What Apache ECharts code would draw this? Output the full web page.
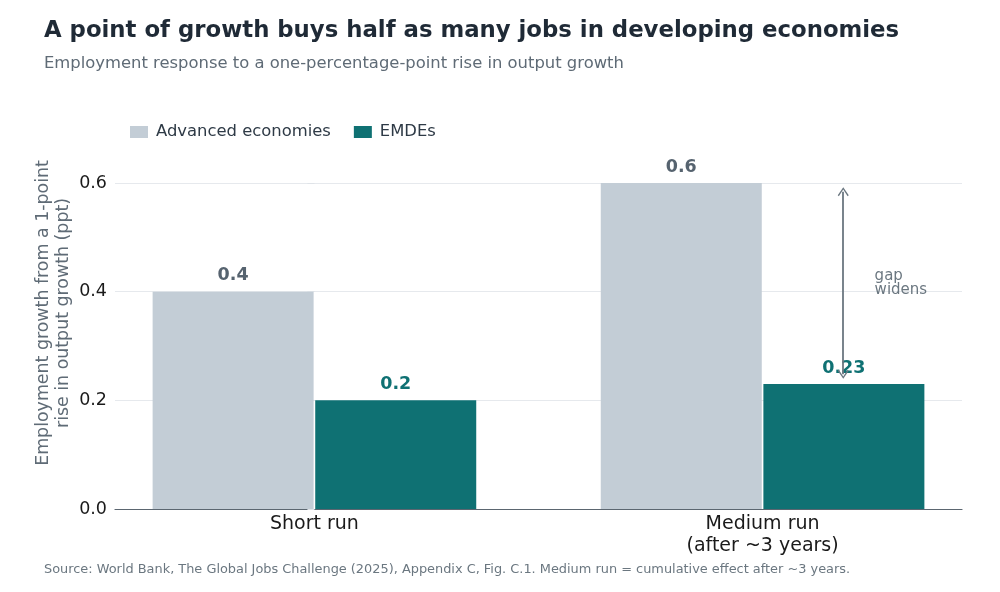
<!DOCTYPE html>
<html>
<head>
<meta charset="utf-8">
<script src="https://cdn.jsdelivr.net/npm/echarts@6/dist/echarts.min.js"></script>
<style>
  html, body { margin: 0; padding: 0; background: #fff; }
  #chart { width: 1000px; height: 592px; }
</style>
</head>
<body>
<div id="chart"></div>
<script>
// categories and values
var categories = ['Short run', 'Medium run\n(after ~3 years)'];
var advanced = [0.4, 0.6];
var emdes = [0.2, 0.23];
var yTicks = [0, 0.2, 0.4, 0.6];
// "gap widens" arrow, in data units
var gapX = 1.18;
var gapLabelAt = [1.25, 0.416];

var FONT = 'DejaVu Sans';
var C_ADV = '#c3cdd6';
var C_EM = '#0f7173';
var GREY = '#5f6b76';
var CHEVRON = 'path://M0,9 L5,0 L10,9 L9,10 L5,2.6 L1,10 Z';

var chart = echarts.init(document.getElementById('chart'));

function pairs(vals) {
  return vals.map(function (v, i) { return [i, v]; });
}

chart.setOption({
  animation: false,
  textStyle: { fontFamily: FONT },
  title: [{
    text: 'A point of growth buys half as many jobs in developing economies',
    left: 39, top: 15,
    textStyle: { fontSize: 22.8, fontWeight: 'bold', color: '#1f2a36', fontFamily: FONT },
    subtext: 'Employment response to a one-percentage-point rise in output growth',
    subtextStyle: { fontSize: 16.4, color: GREY, fontFamily: FONT },
    itemGap: 13
  }, {
    text: 'Source: World Bank, The Global Jobs Challenge (2025), Appendix C, Fig. C.1. Medium run = cumulative effect after ~3 years.',
    left: 39, top: 558,
    textStyle: { fontSize: 12.9, fontWeight: 'normal', color: '#6b7780', fontFamily: FONT }
  }],
  legend: {
    left: 125, top: 119,
    icon: 'rect', itemWidth: 18, itemHeight: 12, itemGap: 23,
    textStyle: { fontSize: 16.4, color: '#2e3a46', padding: [0, 0, 0, 3] },
    data: ['Advanced economies', 'EMDEs']
  },
  grid: { left: 115, right: 38, top: 183, bottom: 83 },
  xAxis: {
    type: 'value', min: -0.445, max: 1.445,
    splitLine: { show: false },
    axisTick: { show: false },
    axisLine: { show: true, lineStyle: { color: '#5b6670', width: 1.2 } },
    axisLabel: {
      customValues: [0, 1],
      formatter: function (v) { return categories[Math.round(v)]; },
      fontSize: 19, color: '#1a1a1a', lineHeight: 22, margin: 4
    }
  },
  yAxis: {
    type: 'value', min: yTicks[0], max: yTicks[yTicks.length - 1], interval: 0.2,
    name: 'Employment growth from a 1-point\nrise in output growth (ppt)',
    nameLocation: 'middle', nameGap: 42, nameMoveOverlap: false,
    nameTextStyle: { fontSize: 17.4, color: GREY, lineHeight: 20, padding: [0, 0, 0, 66] },
    axisLine: { show: false },
    axisTick: { show: true, length: 7, lineStyle: { color: '#dfe3e8' } },
    splitLine: { lineStyle: { color: '#e6e9ed', width: 1.2 } },
    axisLabel: {
      fontSize: 17.5, color: '#1a1a1a', margin: 8,
      formatter: function (v) { return v.toFixed(1); }
    }
  },
  series: [{
    name: 'Advanced economies',
    type: 'bar',
    data: pairs(advanced),
    barWidth: 161, barGap: '1%',
    itemStyle: { color: C_ADV },
    label: {
      show: true, position: 'top', distance: 7,
      fontSize: 17.5, fontWeight: 'bold', color: '#56636f',
      formatter: function (p) { return String(p.value[1]); }
    }
  }, {
    name: 'EMDEs',
    type: 'bar',
    data: pairs(emdes),
    barWidth: 161, barGap: '1%',
    itemStyle: { color: C_EM },
    label: {
      show: true, position: 'top', distance: 7,
      fontSize: 17.5, fontWeight: 'bold', color: C_EM,
      formatter: function (p) { return String(p.value[1]); }
    }
  }, {
    name: 'annotation',
    type: 'line',
    data: [],
    silent: true,
    markLine: {
      silent: true,
      symbol: [CHEVRON, CHEVRON],
      symbolSize: [11, 9],
      label: { show: false },
      lineStyle: { color: '#6b7780', width: 1.8, type: 'solid' },
      data: [[{ coord: [gapX, advanced[1] - 0.016] }, { coord: [gapX, emdes[1] + 0.018] }]]
    },
    markPoint: {
      silent: true,
      symbol: 'circle', symbolSize: 0,
      label: {
        show: true, position: 'right', distance: 0,
        formatter: 'gap\nwidens', fontSize: 15, lineHeight: 14, color: '#6b7780'
      },
      data: [{ coord: gapLabelAt }]
    }
  }]
});
</script>
</body>
</html>
